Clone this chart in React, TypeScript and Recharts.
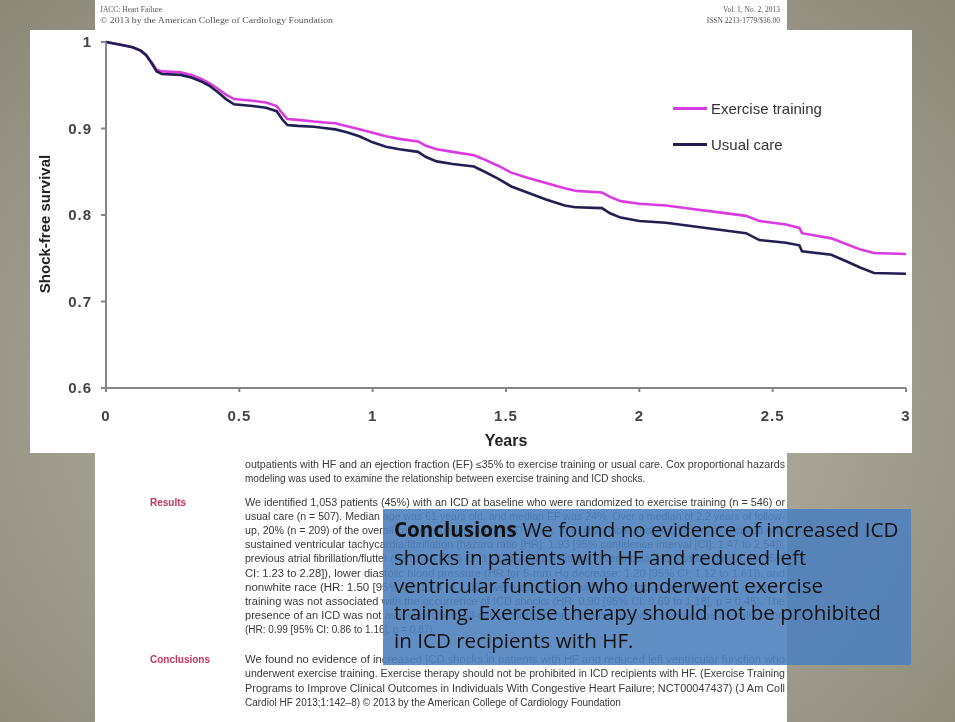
import { LineChart, Line, XAxis, YAxis } from 'recharts';

// Kaplan-Meier readout (years of follow-up)
const years = [
  0, 0.05, 0.1, 0.13, 0.15, 0.17, 0.19, 0.21, 0.28, 0.32, 0.36, 0.39, 0.42, 0.45, 0.48,
  0.55, 0.6, 0.64, 0.66, 0.68, 0.72, 0.78, 0.86, 0.9, 0.95, 1.0, 1.05, 1.1, 1.17,
  1.2, 1.24, 1.3, 1.38, 1.42, 1.47, 1.52, 1.58, 1.65, 1.72, 1.76, 1.86, 1.89, 1.93,
  2.0, 2.1, 2.2, 2.3, 2.4, 2.45, 2.55, 2.6, 2.61, 2.72, 2.78, 2.83, 2.88, 3.0,
];
const exerciseSurvival = [
  1.0, 0.997, 0.994, 0.99, 0.985, 0.977, 0.968, 0.966, 0.965, 0.962, 0.957, 0.952, 0.946, 0.939, 0.934,
  0.932, 0.93, 0.926, 0.918, 0.911, 0.91, 0.908, 0.906, 0.903, 0.899, 0.895, 0.891, 0.888, 0.885,
  0.88, 0.876, 0.873, 0.869, 0.864, 0.857, 0.849, 0.843, 0.837, 0.831, 0.828, 0.826, 0.821, 0.816,
  0.813, 0.811, 0.807, 0.803, 0.799, 0.793, 0.789, 0.785, 0.779, 0.773, 0.766, 0.76, 0.756, 0.755,
];
const usualSurvival = [
  1.0, 0.997, 0.994, 0.99, 0.985, 0.976, 0.966, 0.963, 0.962, 0.959, 0.954, 0.949, 0.942, 0.934, 0.928,
  0.926, 0.924, 0.92, 0.911, 0.904, 0.903, 0.902, 0.899, 0.896, 0.891, 0.884, 0.879, 0.876, 0.873,
  0.867, 0.862, 0.859, 0.856, 0.85, 0.842, 0.833, 0.826, 0.818, 0.811, 0.809, 0.808, 0.802, 0.797,
  0.793, 0.791, 0.787, 0.783, 0.779, 0.771, 0.768, 0.765, 0.758, 0.754, 0.746, 0.739, 0.733, 0.732,
];
const xTicks = [0, 0.5, 1, 1.5, 2, 2.5, 3];
const yTicks = [0.6, 0.7, 0.8, 0.9, 1];

const EXERCISE = '#d93be0';
const USUAL = '#211f50';

const data = years.map((t, i) => ({ t, ex: exerciseSurvival[i], uc: usualSurvival[i] }));

const headerLeft = ['JACC: Heart Failure', '\u00a9 2013 by the American College of Cardiology Foundation'];
const headerRight = ['Vol. 1, No. 2, 2013', 'ISSN 2213-1779/$36.00'];

const methodsTail = [
  'outpatients with HF and an ejection fraction (EF) \u226435% to exercise training or usual care. Cox proportional hazards',
  'modeling was used to examine the relationship between exercise training and ICD shocks.',
];
const resultsLines = [
  'We identified 1,053 patients (45%) with an ICD at baseline who were randomized to exercise training (n = 546) or',
  'usual care (n = 507). Median age was 61 years old, and median EF was 24%. Over a median of 2.2 years of follow-',
  'up, 20% (n = 209) of the overall cohort experienced an ICD shock. In multivariable analysis, factors associated with',
  'sustained ventricular tachycardia/fibrillation (hazard ratio [HR]: 1.93 [95% confidence interval [CI]: 1.47 to 2.54]),',
  'previous atrial fibrillation/flutter (HR: 1.68 [95% CI: 1.21 to 2.33]), a history of ventricular tachycardia (HR: 1.68 [95%',
  'CI: 1.23 to 2.28]), lower diastolic blood pressure (HR for 5-mm Hg decrease: 1.20 [95% CI: 1.12 to 1.61]), and',
  'nonwhite race (HR: 1.50 [95% CI: 1.14 to 1.98]) were associated with ICD shocks. Assignment to exercise',
  'training was not associated with the occurrence of ICD shocks (HR: 0.90 [95% CI: 0.69 to 1.18], p = 0.45). The',
  'presence of an ICD was not associated with all-cause mortality or all-cause hospitalization in the overall cohort',
  '(HR: 0.99 [95% CI: 0.86 to 1.16], p = 0.87).',
];
const conclusionLines = [
  'We found no evidence of increased ICD shocks in patients with HF and reduced left ventricular function who',
  'underwent exercise training. Exercise therapy should not be prohibited in ICD recipients with HF. (Exercise Training',
  'Programs to Improve Clinical Outcomes in Individuals With Congestive Heart Failure; NCT00047437) (J Am Coll',
  'Cardiol HF 2013;1:142\u20138) \u00a9 2013 by the American College of Cardiology Foundation',
];
const boxLines = [
  'We found no evidence of increased ICD',
  'shocks in patients with HF and reduced left',
  'ventricular function who underwent exercise',
  'training. Exercise therapy should not be prohibited',
  'in ICD recipients with HF.',
];

const sans = '"Liberation Sans", Arial, sans-serif';

function LegendBox() {
  const items = [
    { label: 'Exercise training', color: EXERCISE },
    { label: 'Usual care', color: USUAL },
  ];
  return (
    <div style={{ position: 'absolute', left: 643, top: 60 }}>
      {items.map((it) => (
        <div key={it.label} style={{ display: 'flex', alignItems: 'center', height: 36 }}>
          <div style={{ width: 34, height: 3, background: it.color, marginRight: 4 }} />
          <span style={{ fontFamily: sans, fontSize: 15, color: '#333', marginTop: 1 }}>{it.label}</span>
        </div>
      ))}
    </div>
  );
}

function PageText() {
  const body = { fontFamily: sans, fontSize: 10, fill: '#383838' };
  const full = 540;
  return (
    <svg width={955} height={722} style={{ position: 'absolute', left: 0, top: 0 }}>
      <defs>
        <filter id="soft">
          <feGaussianBlur stdDeviation="0.45" />
        </filter>
      </defs>
      <rect x={95} y={0} width={692} height={722} fill="#fff" />
      <g filter="url(#soft)" style={{ fontFamily: '"Liberation Serif", serif', fontSize: 7.5, fill: '#555' }}>
        <text x={100} y={12}>{headerLeft[0]}</text>
        <text x={100} y={23} textLength={233} lengthAdjust="spacingAndGlyphs">{headerLeft[1]}</text>
        <text x={780} y={12} textAnchor="end">{headerRight[0]}</text>
        <text x={780} y={23} textAnchor="end">{headerRight[1]}</text>
      </g>
      <g filter="url(#soft)" style={body}>
        <text x={245} y={468} textLength={full} lengthAdjust="spacingAndGlyphs">{methodsTail[0]}</text>
        <text x={245} y={482}>{methodsTail[1]}</text>
        {resultsLines.map((l, i) => (
          <text
            key={l}
            x={245}
            y={506 + i * 14.1}
            textLength={i === resultsLines.length - 1 ? undefined : full}
            lengthAdjust="spacingAndGlyphs"
          >
            {l}
          </text>
        ))}
        {conclusionLines.map((l, i) => (
          <text
            key={l}
            x={245}
            y={663 + i * 14.3}
            textLength={i === conclusionLines.length - 1 ? undefined : full}
            lengthAdjust="spacingAndGlyphs"
          >
            {l}
          </text>
        ))}
        <text x={150} y={506} style={{ fontWeight: 700, fill: '#c2355c' }}>Results</text>
        <text x={150} y={663} style={{ fontWeight: 700, fill: '#c2355c' }}>Conclusions</text>
      </g>
    </svg>
  );
}

export default function App() {
  return (
    <div
      style={{
        position: 'fixed',
        left: 0,
        top: 0,
        width: 955,
        height: 722,
        overflow: 'hidden',
        background: 'radial-gradient(ellipse at 50% 55%, #bcb9ac 0%, #a9a698 45%, #8b8878 100%)',
      }}
    >
      <PageText />
      <div style={{ position: 'absolute', left: 30, top: 30, width: 882, height: 423, background: '#fff' }}>
        <LineChart width={882} height={423} data={data} margin={{ top: 12, right: 6, left: 0, bottom: 0 }}>
          <XAxis
            dataKey="t"
            type="number"
            domain={[0, 3]}
            ticks={xTicks}
            height={65}
            tickSize={4}
            tickMargin={18}
            stroke="#858585"
            strokeWidth={2}
            tick={{ fontFamily: sans, fontWeight: 700, fontSize: 15, fill: '#444', letterSpacing: 1 }}
            label={{
              value: 'Years',
              position: 'insideBottom',
              offset: 7,
              style: { fontFamily: sans, fontWeight: 700, fontSize: 16, fill: '#222' },
            }}
          />
          <YAxis
            type="number"
            domain={[0.6, 1]}
            ticks={yTicks}
            width={76}
            tickSize={5}
            tickMargin={9}
            stroke="#858585"
            strokeWidth={2}
            tickFormatter={(v: number) => (v === 1 ? '1' : v.toFixed(1))}
            tick={{ fontFamily: sans, fontWeight: 700, fontSize: 15, fill: '#444', letterSpacing: 1 }}
            label={{
              value: 'Shock-free survival',
              angle: -90,
              position: 'insideLeft',
              offset: 15,
              dy: 9,
              style: { fontFamily: sans, fontWeight: 700, fontSize: 15, fill: '#222', textAnchor: 'middle' },
            }}
          />
          <Line
            type="linear"
            dataKey="ex"
            name="Exercise training"
            stroke={EXERCISE}
            strokeWidth={2.6}
            dot={false}
            isAnimationActive={false}
          />
          <Line
            type="linear"
            dataKey="uc"
            name="Usual care"
            stroke={USUAL}
            strokeWidth={2.6}
            dot={false}
            isAnimationActive={false}
          />
        </LineChart>
        <LegendBox />
      </div>
      <svg width={955} height={722} style={{ position: 'absolute', left: 0, top: 0, pointerEvents: 'none' }}>
        <rect x={383} y={509} width={528} height={156} fill="#4f81bd" fillOpacity={0.9} />
        <g style={{ fontFamily: '"Open Sans", Lato, sans-serif', fontSize: 20.6, fill: '#111' }}>
          {boxLines.map((l, i) => (
            <text key={l} x={394} y={537 + i * 27.8}>
              {i === 0 ? <tspan style={{ fontWeight: 700 }}>Conclusions </tspan> : null}
              {l}
            </text>
          ))}
        </g>
      </svg>
    </div>
  );
}
